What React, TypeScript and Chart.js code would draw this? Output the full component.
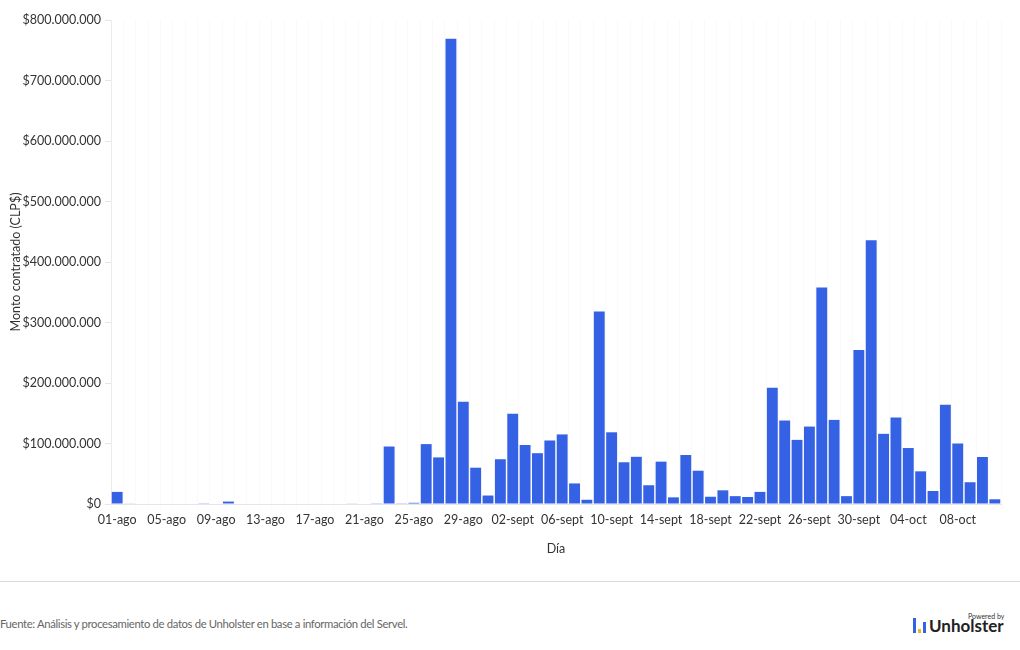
import React, { useEffect, useRef } from "react";
import { Chart, registerables } from "chart.js";

Chart.register(...registerables);

const MONTHS = ["ago", "sept", "oct"];
const MONTH_DAYS = [31, 30, 11];

const days: string[] = [];
MONTH_DAYS.forEach((n, m) => {
  for (let d = 1; d <= n; d++) days.push(String(d).padStart(2, "0") + "-" + MONTHS[m]);
});

const augustValues = [
  20, 1, 0, 0, 0, 0, 0, 0.5, 0, 4, 0, 0, 0, 0, 0, 0, 0, 0, 0, 1, 0, 0.5, 95, 0.5, 2, 99, 77, 769, 169, 60, 14,
];
const septemberValues = [
  74, 149, 97.5, 84, 105, 115, 34, 7, 318, 118.5, 69, 78, 31, 70, 11, 81, 55, 12, 22.6, 13, 11.6, 20, 192, 138, 106, 128,
  358, 139, 13, 254.5,
];
const octoberValues = [436, 116, 143, 92.5, 54, 21.5, 164, 100, 36, 77.7, 7.8];

const amounts = [...augustValues, ...septemberValues, ...octoberValues].map((v) => v * 1e6);

const yTicks = [0, 100e6, 200e6, 300e6, 400e6, 500e6, 600e6, 700e6, 800e6];

const fmt = (v: number) => "$" + Math.round(v).toString().replace(/\B(?=(\d{3})+(?!\d))/g, ".");

const FONT = "Lato, 'Open Sans', sans-serif";

export default function App() {
  const ref = useRef<HTMLCanvasElement>(null);
  useEffect(() => {
    document.body.style.margin = "0";
    const chart = new Chart(ref.current!, {
      type: "bar",
      data: {
        labels: days,
        datasets: [
          {
            data: amounts,
            backgroundColor: "#3562e5",
            borderWidth: 0,
            barPercentage: 0.88,
            categoryPercentage: 1,
          },
        ],
      },
      options: {
        animation: false,
        responsive: false,
        maintainAspectRatio: false,
        layout: { padding: { top: 20, right: 19, left: 0, bottom: 14 } },
        plugins: { legend: { display: false }, tooltip: { enabled: false } },
        scales: {
          x: {
            offset: true,
            grid: { color: "#fafafa", offset: true, tickLength: 5, drawOnChartArea: true },
            border: { color: "#e6e6e6" },
            ticks: {
              autoSkip: false,
              maxRotation: 0,
              color: "#333",
              font: { family: FONT, size: 12.5 },
              padding: 3,
              callback: (_v: any, i: number) => (i % 4 === 0 ? days[i] : ""),
            },
            title: {
              display: true,
              text: "Día",
              color: "#333",
              font: { family: FONT, size: 12.5 },
              padding: { top: 14, bottom: 0 },
            },
            afterFit: (s: any) => {
              s.height = 52;
            },
          },
          y: {
            min: 0,
            max: 800e6,
            afterBuildTicks: (s: any) => {
              s.ticks = yTicks.map((v) => ({ value: v }));
            },
            grid: { display: true, drawOnChartArea: false, color: "#e6e6e6", tickLength: 6 },
            border: { color: "#ececec" },
            ticks: {
              color: "#333",
              font: { family: FONT, size: 12.5 },
              padding: 4,
              callback: (v: any) => fmt(Number(v)),
            },
            title: {
              display: true,
              text: "Monto contratado (CLP$)",
              color: "#333",
              font: { family: FONT, size: 12.5 },
              padding: { top: 8, bottom: 8 },
            },
            afterFit: (s: any) => {
              s.width = 111;
            },
          },
        },
      },
    });
    return () => chart.destroy();
  }, []);

  return (
    <div style={{ position: "relative", width: 1020, height: 650, background: "#fff", fontFamily: FONT }}>
      <canvas ref={ref} width={1020} height={570} style={{ display: "block" }} />
      <div style={{ position: "absolute", left: 0, top: 581, width: 1020, height: 1, background: "#d9d9d9" }} />
      <div style={{ position: "absolute", left: 0, top: 617, fontSize: 11.3, color: "#666", letterSpacing: -0.35 }}>
        Fuente: Análisis y procesamiento de datos de Unholster en base a información del Servel.
      </div>
      <div style={{ position: "absolute", left: 912, top: 612, width: 100, height: 24 }}>
        <div style={{ position: "absolute", left: 56, top: 0, fontSize: 7, color: "#333", lineHeight: "8px" }}>Powered by</div>
        <div style={{ position: "absolute", left: 1, top: 6, width: 3, height: 15, background: "#3562e5" }} />
        <div style={{ position: "absolute", left: 6, top: 17, width: 3, height: 4, background: "#f0b429" }} />
        <div style={{ position: "absolute", left: 11, top: 10, width: 3, height: 11, background: "#3562e5" }} />
        <div
          style={{
            position: "absolute",
            left: 17,
            top: 4,
            fontSize: 17,
            fontWeight: 700,
            color: "#222",
            lineHeight: "19px",
          }}
        >
          Unholster
        </div>
      </div>
    </div>
  );
}
